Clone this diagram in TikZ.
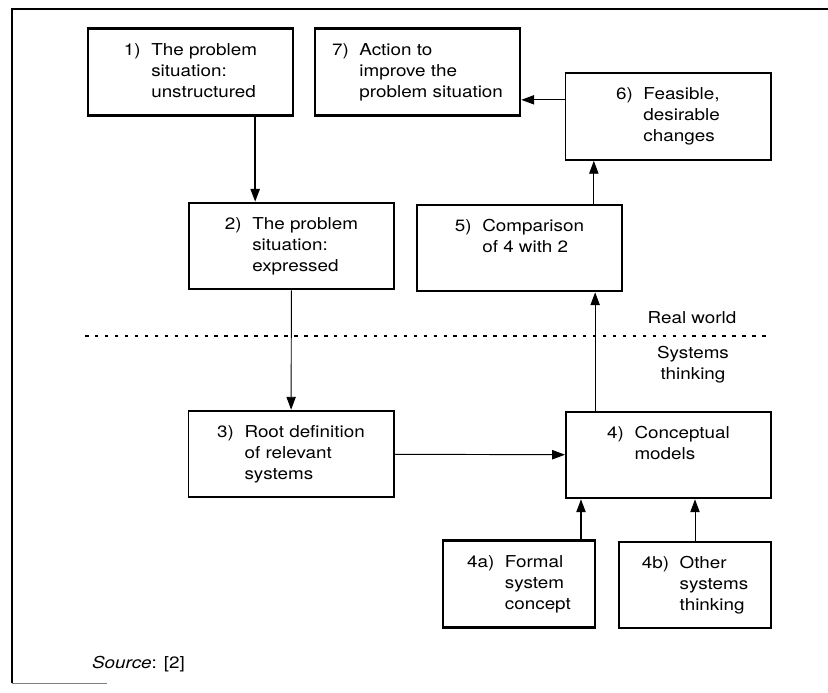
\documentclass[tikz,border=0pt]{standalone}
\usepackage{fontspec}
\setmainfont{TeX Gyre Heros}[FakeStretch=1.15]
\usetikzlibrary{arrows.meta}
\newcommand{\stagefont}{\fontsize{14}{18}\selectfont}
\newcommand{\stagetext}[2]{\begin{tabular}{@{}l@{\hspace{9pt}}l@{}}#1 & #2\end{tabular}}
\tikzset{
  stage/.style={draw, line width=1.7pt, minimum width=6.15cm, minimum height=2.6cm, inner sep=0pt, font=\stagefont},
  heavy stage/.style={stage, line width=2.3pt},
  small stage/.style={stage, minimum width=4.56cm},
  flow/.style={-{Triangle[length=11pt,width=8pt]}, line width=0.8pt},
  boundary/.style={line width=1.1pt, dash pattern=on 3pt off 5.5pt},
}
\begin{document}
\begin{tikzpicture}[x=0.03cm, y=-0.03cm]
\useasboundingbox (0,0) rectangle (828,693);
\draw[line width=0.9pt] (828,9)--(12,9)--(12,683);
\draw[gray, line width=0.6pt] (12,683)--(107,683);
\node[heavy stage] (unstruct) at (190.5,72) {\stagetext{1)}{The problem\\ & situation:\\ & unstructured}};
\node[heavy stage] (action) at (417.5,72) {\stagetext{7)}{Action to\\ & improve the\\ & problem situation}};
\node[stage] (changes) at (668,116.5) {\stagetext{6)}{Feasible,\\ & desirable\\ & changes}};
\node[stage] (expressed) at (291.5,246) {\stagetext{2)}{The problem\\ & situation:\\ & expressed}};
\node[stage] (compare) at (519.5,248) {\stagetext{5)}{Comparison\\ & of 4 with 2\\ & \mbox{}}};
\node[stage] (rootdef) at (291,454) {\stagetext{3)}{Root definition\\ & of relevant\\ & systems}};
\node[stage] (models) at (668.5,455) {\stagetext{4)}{Conceptual\\ & models\\ & \mbox{}}};
\node[small stage, line width=2.3pt] (formal) at (519,584) {\stagetext{4a)}{Formal\\ & system\\ & concept}};
\node[small stage] (other) at (695,585) {\stagetext{4b)}{Other\\ & systems\\ & thinking}};
\draw[boundary] (85,336)--(770,336);
\node[font=\stagefont] (realworld) at (692,318) {Real world};
\node[font=\stagefont, align=center] (systhink) at (693,365) {Systems\\thinking};
\node[font=\stagefont, anchor=base west] (source) at (88,668) {\textit{Source}: [2]};
\draw[flow, line width=1.3pt] ([xshift=1.94cm]unstruct.south)--([xshift=1.94cm]unstruct.south |- expressed.north);
\draw[flow] (expressed)--(rootdef);
\draw[flow] (rootdef)--(models);
\draw[flow] ([xshift=-2.2cm]models.north)--([xshift=-2.2cm]models.north |- compare.south);
\draw[flow] ([xshift=2.23cm]compare.north)--([xshift=2.23cm]compare.north |- changes.south);
\draw[flow] ([yshift=0.5cm]changes.west)--([yshift=0.5cm]changes.west -| action.east);
\draw[flow, line width=1pt] ([xshift=1.86cm]formal.north)--([xshift=1.86cm]formal.north |- models.south);
\draw[flow] (other.north)--(other.north |- models.south);
\end{tikzpicture}
\end{document}
